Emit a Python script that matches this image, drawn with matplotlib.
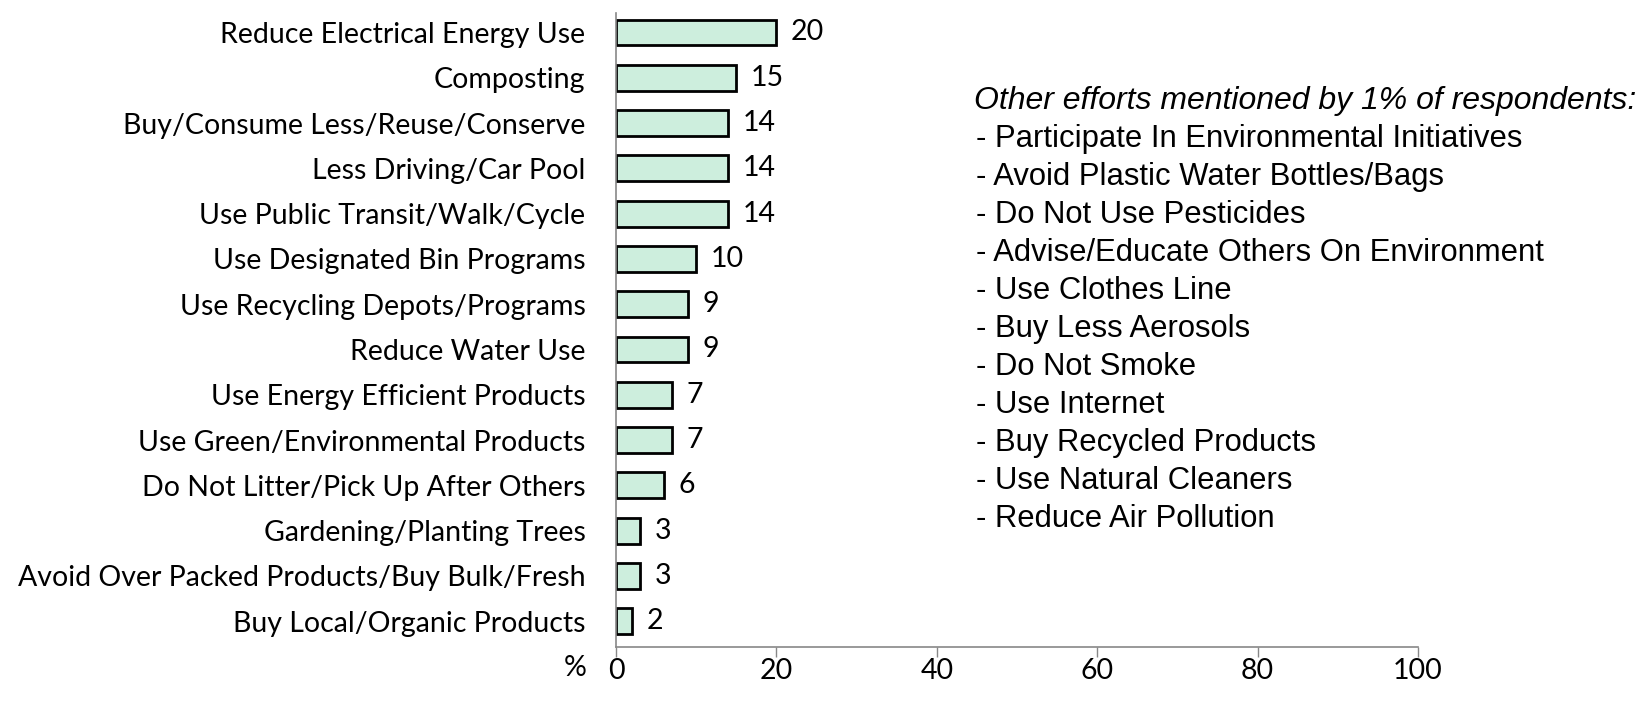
from matplotlib import pyplot as plt

# Environmental efforts (% of respondents)
efforts = ["Reduce Electrical Energy Use", "Composting", "Buy/Consume Less/Reuse/Conserve",
           "Less Driving/Car Pool", "Use Public Transit/Walk/Cycle", "Use Designated Bin Programs",
           "Use Recycling Depots/Programs", "Reduce Water Use", "Use Energy Efficient Products",
           "Use Green/Environmental Products", "Do Not Litter/Pick Up After Others",
           "Gardening/Planting Trees", "Avoid Over Packed Products/Buy Bulk/Fresh",
           "Buy Local/Organic Products"]
percent = [20, 15, 14, 14, 14, 10, 9, 9, 7, 7, 6, 3, 3, 2]

x_ticks = [0, 20, 40, 60, 80, 100]

other_title = "Other efforts mentioned by 1% of respondents:"
other_efforts = ["Participate In Environmental Initiatives", "Avoid Plastic Water Bottles/Bags",
                 "Do Not Use Pesticides", "Advise/Educate Others On Environment",
                 "Use Clothes Line", "Buy Less Aerosols", "Do Not Smoke", "Use Internet",
                 "Buy Recycled Products", "Use Natural Cleaners", "Reduce Air Pollution"]

label_font = "Lato"
note_font = "Liberation Sans"
fs = 20.5

fig = plt.figure(figsize=(16.45, 7.07), dpi=100)
ax = fig.add_axes([0.3745, 0.0849, 0.4875, 0.8967])

pos = range(len(efforts))
ax.barh(pos, percent, height=0.57, color="#cdeedd", edgecolor="black", linewidth=2)
for i, v in enumerate(percent):
    ax.text(v + 1.8, i, str(v), va="center", ha="left", fontsize=fs, family=label_font)

ax.set_ylim(13.57, -0.43)
ax.set_xlim(0, 100)
ax.set_yticks(list(pos))
ax.set_yticklabels(efforts, fontsize=fs, family=label_font)
ax.set_xticks(x_ticks)
ax.set_xticklabels([str(t) for t in x_ticks], fontsize=fs, family=label_font)
ax.tick_params(axis="y", length=0, pad=22)
ax.tick_params(axis="x", length=7, width=1, color="#888888", pad=1, direction="out")

for s in ["top", "right"]:
    ax.spines[s].set_visible(False)
for s in ["left", "bottom"]:
    ax.spines[s].set_color("#888888")
    ax.spines[s].set_linewidth(1.2)

fig.text(575 / 1645, 1 - 668 / 707, "%", fontsize=fs, family=label_font, ha="center", va="center")

# note on the right
fig.text(974 / 1645, 1 - 101 / 707, other_title, fontsize=23, family=note_font,
         style="italic", va="center", ha="left")
for k, item in enumerate(other_efforts):
    fig.text(976 / 1645, 1 - (139 + 38 * k) / 707, "- " + item, fontsize=22.3,
             family=note_font, va="center", ha="left")

plt.savefig("out.png")
